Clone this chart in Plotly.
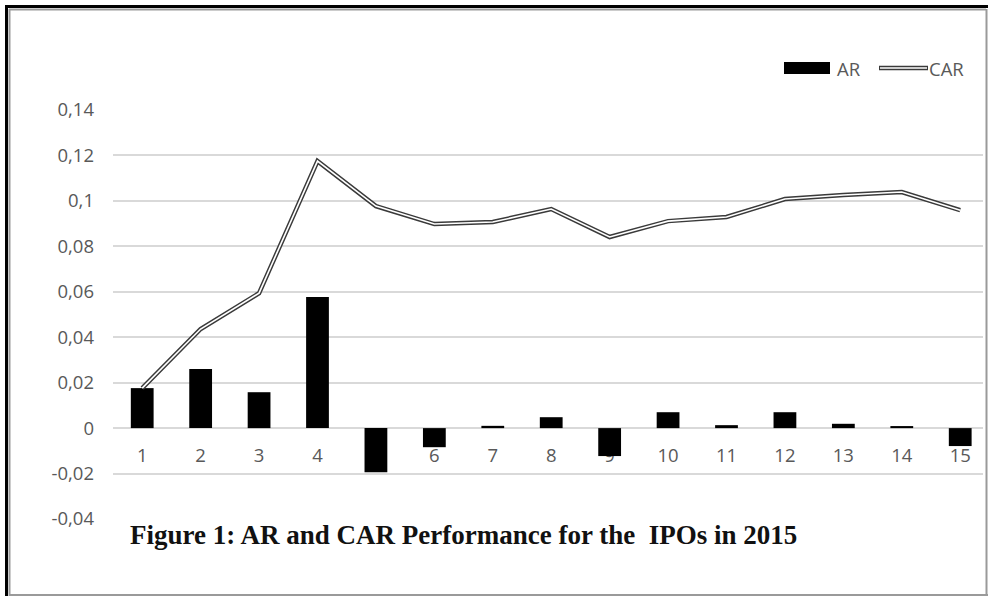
import plotly.graph_objects as go

categories = [1, 2, 3, 4, 5, 6, 7, 8, 9, 10, 11, 12, 13, 14, 15]
ar_values = [0.0176, 0.0260, 0.0158, 0.0577, -0.0194, -0.0084, 0.0010, 0.0048,
             -0.0123, 0.0070, 0.0013, 0.0070, 0.0019, 0.0009, -0.0079]
car_values = [0.0176, 0.0436, 0.0594, 0.1175, 0.0977, 0.0898, 0.0907, 0.0964,
              0.0841, 0.0911, 0.0929, 0.1008, 0.1026, 0.1039, 0.0959]
y_tickvals = [-0.04, -0.02, 0, 0.02, 0.04, 0.06, 0.08, 0.10, 0.12, 0.14]
y_ticktext = ["-0,04", "-0,02", "0", "0,02", "0,04", "0,06", "0,08", "0,1", "0,12", "0,14"]
title_text = "Figure 1: AR and CAR Performance for the  IPOs in 2015"

W, H = 988, 596
L, R, T, B = 113, 5, 110, 77
PW, PH = W - L - R, H - T - B


def px(x):
    return (x - L) / PW


def py(y):
    return (H - B - y) / PH


TXT = "#595959"
FONT = "Open Sans"

fig = go.Figure()
fig.add_trace(go.Bar(x=categories, y=ar_values, width=0.39, marker=dict(color="#000000", line=dict(width=0)),
                     name="AR", showlegend=False))
fig.add_trace(go.Scatter(x=categories, y=car_values, mode="lines", line=dict(color="#3a3a3a", width=4.5),
                         name="CAR", showlegend=False))
fig.add_trace(go.Scatter(x=categories, y=car_values, mode="lines", line=dict(color="#ffffff", width=1.6),
                         name="CAR", showlegend=False, hoverinfo="skip"))

shapes = []
# frame
shapes.append(dict(type="line", xref="paper", yref="paper", x0=px(5), x1=px(988), y0=py(6.5), y1=py(6.5),
                   line=dict(color="#000000", width=3)))
shapes.append(dict(type="line", xref="paper", yref="paper", x0=px(6.5), x1=px(6.5), y0=py(5), y1=py(596),
                   line=dict(color="#000000", width=3)))
shapes.append(dict(type="line", xref="paper", yref="paper", x0=px(9), x1=px(986), y0=py(9.5), y1=py(9.5),
                   line=dict(color="#9a9a9a", width=2)))
shapes.append(dict(type="line", xref="paper", yref="paper", x0=px(9.5), x1=px(9.5), y0=py(9), y1=py(596),
                   line=dict(color="#9a9a9a", width=2)))
shapes.append(dict(type="line", xref="paper", yref="paper", x0=px(986.5), x1=px(986.5), y0=py(9), y1=py(596),
                   line=dict(color="#9a9a9a", width=2)))
shapes.append(dict(type="line", xref="paper", yref="paper", x0=px(9), x1=px(988), y0=py(595), y1=py(595),
                   line=dict(color="#9a9a9a", width=2)))
# legend symbols
shapes.append(dict(type="rect", xref="paper", yref="paper", x0=px(784), x1=px(830), y0=py(74), y1=py(62),
                   fillcolor="#000000", line=dict(width=0)))
shapes.append(dict(type="line", xref="paper", yref="paper", x0=px(879), x1=px(928), y0=py(68), y1=py(68),
                   line=dict(color="#3a3a3a", width=4.5)))
shapes.append(dict(type="line", xref="paper", yref="paper", x0=px(880), x1=px(927), y0=py(68), y1=py(68),
                   line=dict(color="#ffffff", width=1.6)))

annotations = [
    dict(text="AR", xref="paper", yref="paper", x=px(835), y=py(68), xanchor="left", yanchor="middle",
         showarrow=False, font=dict(family=FONT, size=18.5, color=TXT)),
    dict(text="CAR", xref="paper", yref="paper", x=px(927), y=py(68), xanchor="left", yanchor="middle",
         showarrow=False, font=dict(family=FONT, size=18.5, color=TXT)),
    dict(text="<b>" + title_text + "</b>", xref="paper", yref="paper", x=px(128), y=py(535),
         xanchor="left", yanchor="middle", showarrow=False,
         font=dict(family="Liberation Serif", size=27, color="#111111")),
]

y_min, y_max = -0.04, 0.14
fig.update_layout(
    width=W, height=H,
    margin=dict(l=L, r=R, t=T, b=B, pad=0),
    paper_bgcolor="#ffffff", plot_bgcolor="#ffffff",
    shapes=shapes, annotations=annotations,
    showlegend=False,
    xaxis=dict(range=[0.5, 15.39], tickmode="array", tickvals=categories, ticktext=[str(c) for c in categories],
               showgrid=False, zeroline=False, showline=False, ticks="", anchor="free",
               position=(0 - y_min) / (y_max - y_min), ticklabelstandoff=14, layer="below traces",
               tickfont=dict(family=FONT, size=18.5, color=TXT)),
    yaxis=dict(range=[y_min, y_max], tickmode="array", tickvals=y_tickvals, ticktext=y_ticktext,
               showgrid=True, gridcolor="#d9d9d9", gridwidth=1.5, zeroline=True, zerolinecolor="#d9d9d9",
               zerolinewidth=1.5, showline=False, ticks="", ticklabelstandoff=18, layer="below traces",
               tickfont=dict(family=FONT, size=18.5, color=TXT)),
)

fig.write_html("out.html", config={"displayModeBar": False},
               post_script="document.body.style.margin='0';document.body.style.overflow='hidden';")
